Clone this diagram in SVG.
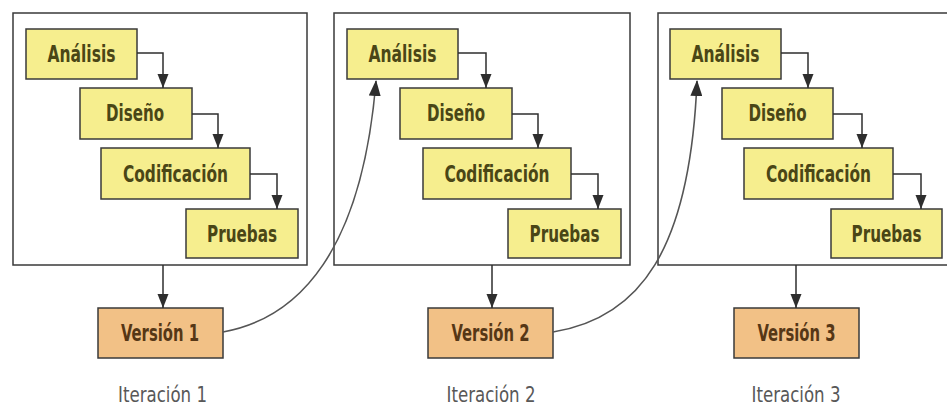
<svg xmlns="http://www.w3.org/2000/svg" width="947" height="407" viewBox="0 0 947 407">
  <defs>
    <marker id="head" viewBox="0 0 16 12" refX="15" refY="6" markerWidth="16" markerHeight="12" markerUnits="userSpaceOnUse" orient="auto">
      <path d="M0,0 L16,6 L0,12 z" fill="#2e2e2e"/>
    </marker>
    <marker id="headDown" viewBox="0 0 12 14" refX="6" refY="14" markerWidth="12" markerHeight="14" markerUnits="userSpaceOnUse" orient="0">
      <path d="M0.5,0 L11.5,0 L6,14 z" fill="#2e2e2e"/>
    </marker>
  </defs>
  <style>
    .frame { fill: #ffffff; stroke: #3a3a3a; stroke-width: 1.5; }
    .step rect { fill: #f6ee8e; stroke: #3a3a3a; stroke-width: 1.5; }
    .ver rect { fill: #f2c186; stroke: #3a3a3a; stroke-width: 1.5; }
    .lbl { font-family: "Liberation Sans Narrow", "DejaVu Sans Condensed", "Liberation Sans", sans-serif; font-weight: bold; font-size: 23px; text-anchor: middle; }
    .step text { fill: #4a4616; }
    .ver text { fill: #563716; }
    .cap { font-family: "Liberation Sans Narrow", "DejaVu Sans Condensed", "Liberation Sans", sans-serif; font-size: 22px; fill: #585858; text-anchor: middle; }
    .flow { fill: none; stroke: #2e2e2e; stroke-width: 1.5; }
    .loop { fill: none; stroke: #555555; stroke-width: 1.6; }
  </style>
  <rect width="947" height="407" fill="#ffffff"/>

  <!-- iteration frames -->
  <g id="frame1"><rect class="frame" x="13" y="13" width="294" height="252"/></g>
  <g id="frame2"><rect class="frame" x="334" y="13" width="296" height="252"/></g>
  <g id="frame3"><rect class="frame" x="658" y="13" width="300" height="252"/></g>

  <!-- iteration 1 -->
  <g id="analisis1" class="step"><rect x="26" y="29" width="111" height="50"/><text class="lbl" x="81.5" y="62" textLength="68" lengthAdjust="spacingAndGlyphs">Análisis</text></g>
  <g id="diseno1" class="step"><rect x="80" y="88" width="112" height="51"/><text class="lbl" x="135" y="121" textLength="58" lengthAdjust="spacingAndGlyphs">Diseño</text></g>
  <g id="codif1" class="step"><rect x="101" y="148" width="149" height="51"/><text class="lbl" x="175.5" y="182" textLength="105" lengthAdjust="spacingAndGlyphs">Codificación</text></g>
  <g id="pruebas1" class="step"><rect x="186" y="209" width="112" height="49"/><text class="lbl" x="242" y="242" textLength="70" lengthAdjust="spacingAndGlyphs">Pruebas</text></g>
  <g id="version1" class="ver"><rect x="98" y="308" width="125" height="50"/><text class="lbl" x="160" y="341" textLength="78" lengthAdjust="spacingAndGlyphs">Versión 1</text></g>
  <g id="iter1"><text class="cap" x="162.5" y="402" textLength="89" lengthAdjust="spacingAndGlyphs">Iteración 1</text></g>

  <!-- iteration 2 -->
  <g id="analisis2" class="step"><rect x="347" y="29" width="111" height="50"/><text class="lbl" x="402.5" y="62" textLength="68" lengthAdjust="spacingAndGlyphs">Análisis</text></g>
  <g id="diseno2" class="step"><rect x="400" y="88" width="112" height="51"/><text class="lbl" x="456" y="121" textLength="58" lengthAdjust="spacingAndGlyphs">Diseño</text></g>
  <g id="codif2" class="step"><rect x="423" y="148" width="148" height="51"/><text class="lbl" x="497" y="182" textLength="105" lengthAdjust="spacingAndGlyphs">Codificación</text></g>
  <g id="pruebas2" class="step"><rect x="508" y="209" width="113" height="49"/><text class="lbl" x="564.5" y="242" textLength="70" lengthAdjust="spacingAndGlyphs">Pruebas</text></g>
  <g id="version2" class="ver"><rect x="428" y="308" width="125" height="50"/><text class="lbl" x="490.5" y="341" textLength="78" lengthAdjust="spacingAndGlyphs">Versión 2</text></g>
  <g id="iter2"><text class="cap" x="491" y="402" textLength="89" lengthAdjust="spacingAndGlyphs">Iteración 2</text></g>

  <!-- iteration 3 -->
  <g id="analisis3" class="step"><rect x="670" y="29" width="111" height="50"/><text class="lbl" x="725.5" y="62" textLength="68" lengthAdjust="spacingAndGlyphs">Análisis</text></g>
  <g id="diseno3" class="step"><rect x="722" y="88" width="111" height="51"/><text class="lbl" x="777.5" y="121" textLength="58" lengthAdjust="spacingAndGlyphs">Diseño</text></g>
  <g id="codif3" class="step"><rect x="744" y="148" width="149" height="51"/><text class="lbl" x="818.5" y="182" textLength="105" lengthAdjust="spacingAndGlyphs">Codificación</text></g>
  <g id="pruebas3" class="step"><rect x="831" y="209" width="111" height="49"/><text class="lbl" x="886.5" y="242" textLength="70" lengthAdjust="spacingAndGlyphs">Pruebas</text></g>
  <g id="version3" class="ver"><rect x="734" y="308" width="125" height="50"/><text class="lbl" x="796.5" y="341" textLength="78" lengthAdjust="spacingAndGlyphs">Versión 3</text></g>
  <g id="iter3"><text class="cap" x="796" y="402" textLength="89" lengthAdjust="spacingAndGlyphs">Iteración 3</text></g>

  <!-- connectors -->
  <g id="connectors">
    <path class="flow" d="M137,53 H163 V88" marker-end="url(#headDown)"/>
    <path class="flow" d="M192,114 H218 V148" marker-end="url(#headDown)"/>
    <path class="flow" d="M250,174 H277 V209" marker-end="url(#headDown)"/>
    <path class="flow" d="M163,265 V308" marker-end="url(#headDown)"/>

    <path class="flow" d="M458,53 H486 V88" marker-end="url(#headDown)"/>
    <path class="flow" d="M512,114 H538 V148" marker-end="url(#headDown)"/>
    <path class="flow" d="M571,174 H598 V209" marker-end="url(#headDown)"/>
    <path class="flow" d="M492,265 V308" marker-end="url(#headDown)"/>

    <path class="flow" d="M781,53 H808 V88" marker-end="url(#headDown)"/>
    <path class="flow" d="M833,114 H862 V148" marker-end="url(#headDown)"/>
    <path class="flow" d="M893,174 H921 V209" marker-end="url(#headDown)"/>
    <path class="flow" d="M796,265 V308" marker-end="url(#headDown)"/>

    <path class="loop" d="M223,332 C300,318 362,250 376,81" marker-end="url(#head)"/>
    <path class="loop" d="M553,332 C640,318 690,250 697,81" marker-end="url(#head)"/>
  </g>
</svg>
